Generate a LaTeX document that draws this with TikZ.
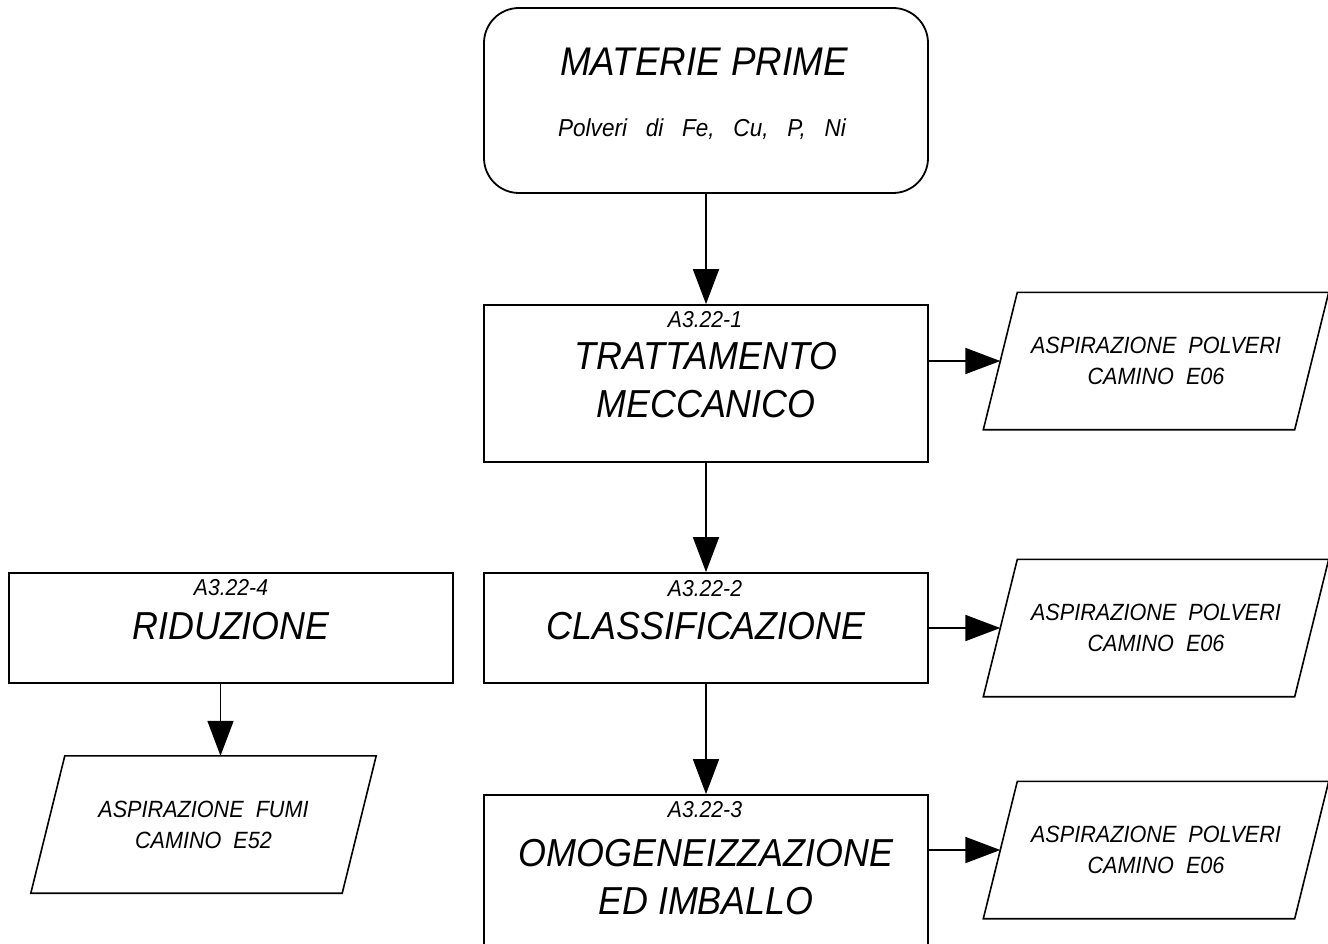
\documentclass[tikz,border=0pt]{standalone}
\usepackage{fontspec}
\setmainfont{Liberation Sans}[FakeStretch=0.92]
\usetikzlibrary{arrows.meta}

\tikzset{
  stage/.style={draw, line width=1.8pt, minimum width=444pt, inner sep=0pt},
  tag/.style={font=\fontsize{23}{23}\selectfont\itshape, inner sep=0pt},
  title/.style={align=center, font=\fontsize{39}{48}\selectfont\itshape, inner sep=0pt},
  exhaust/.style={minimum width=311pt, minimum height=137pt, inner sep=0pt,
    align=center, font=\fontsize{23.5}{31}\selectfont\itshape},
  outline/.style={line width=1.6pt, line join=miter},
  flow/.style={line width=1.8pt, -{Triangle[length=35pt,width=26pt]}}
}

\begin{document}
\begin{tikzpicture}[x=1pt,y=-1pt]
  \useasboundingbox (0,0) rectangle (1328,944);
  \clip (0,0) rectangle (1328,944);

  % Raw materials
  \node[stage, rounded corners=35pt, minimum height=185pt] (raw) at (706,100.5) {};
  \node[title, font=\fontsize{40}{40}\selectfont\itshape] (raw-name) at (704,62) {MATERIE PRIME};
  \node[title, font=\fontsize{24.5}{24.5}\selectfont\itshape] (raw-list) at (702,129)
    {Polveri~~~di~~~Fe,~~~Cu,~~~P,~~~Ni};

  % Process stages
  \node[stage, minimum height=157pt] (mech) at (706,383.5) {};
  \node[tag] (mech-tag) at (705,320) {A3.22-1};
  \node[title] (mech-name) at (706,380) {TRATTAMENTO\\MECCANICO};

  \node[stage, minimum height=110pt] (cls) at (706,628) {};
  \node[tag] (cls-tag) at (705,589) {A3.22-2};
  \node[title] (cls-name) at (706,626) {CLASSIFICAZIONE};

  \node[stage, minimum height=170pt] (mix) at (706,880) {};
  \node[tag] (mix-tag) at (705,810) {A3.22-3};
  \node[title] (mix-name) at (706,877) {OMOGENEIZZAZIONE\\ED IMBALLO};

  \node[stage, minimum height=110pt] (red) at (231,628) {};
  \node[tag] (red-tag) at (231,588) {A3.22-4};
  \node[title] (red-name) at (231,626) {RIDUZIONE};

  % Emissions
  \node[exhaust] (dust1) at (1156,361) {ASPIRAZIONE~~POLVERI\\CAMINO~~E06};
  \node[exhaust] (dust2) at (1156,628) {ASPIRAZIONE~~POLVERI\\CAMINO~~E06};
  \node[exhaust] (dust3) at (1156,850) {ASPIRAZIONE~~POLVERI\\CAMINO~~E06};
  \node[exhaust] (fumes) at (203.5,824.5) {ASPIRAZIONE~~FUMI\\CAMINO~~E52};

  % Slanted outlines round the emissions
  \foreach \n in {dust1, dust2, dust3, fumes}
    \draw[outline] ([xshift=-17pt]\n.south west) -- ([xshift=17pt]\n.north west)
      -- ([xshift=17pt]\n.north east) -- ([xshift=-17pt]\n.south east) -- cycle;

  % Flow arrows
  \draw[flow] (raw) -- (mech);
  \draw[flow] (mech) -- (cls);
  \draw[flow] (cls) -- (mix);
  \draw[flow] (red.south -| fumes.north) ++(17,0) -- ([xshift=17pt]fumes.north);
  \foreach \s/\e in {mech/dust1, cls/dust2, mix/dust3}
    \draw[flow] (\s.east |- \e.west) -- (\e.west);
\end{tikzpicture}
\end{document}
